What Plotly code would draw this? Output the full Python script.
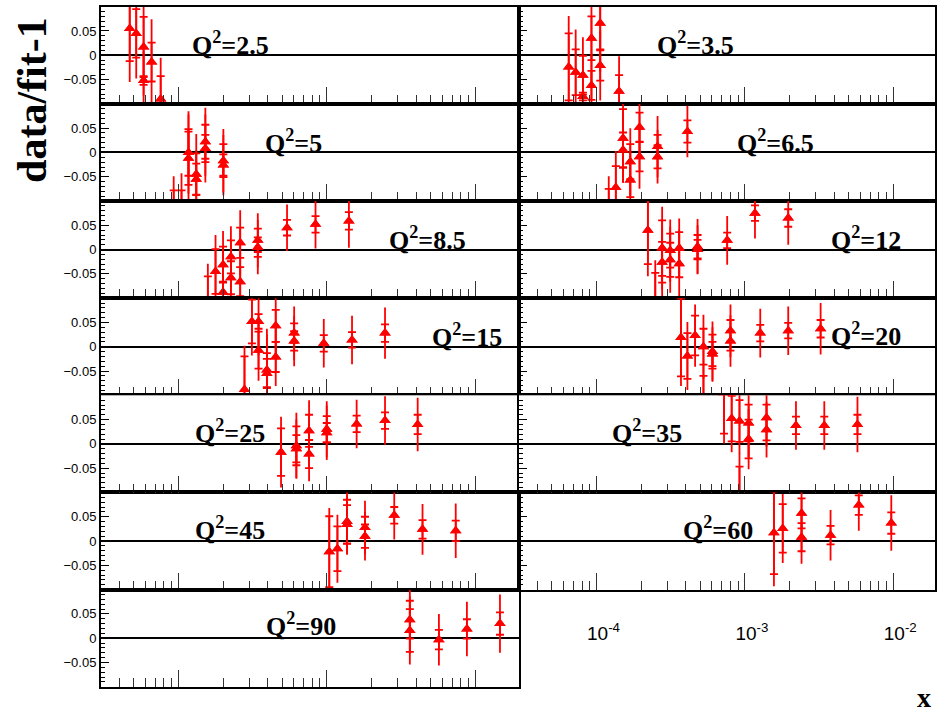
import plotly.graph_objects as go

W, H = 937, 712

# ---------------- data (x, value, stat error, total error) ----------------
q2_labels = ["2.5", "3.5", "5", "6.5", "8.5", "12", "15", "20", "25", "35", "45", "60", "90"]

x_2p5 = [4.7e-5, 5.2e-5, 5.83e-5, 5.83e-5, 6.6e-5, 7.6e-5]
y_2p5 = [0.055, 0.045, 0.017, -0.052, -0.014, -0.09]
s_2p5 = [0.067, 0.05, 0.062, 0.009, 0.040, 0.047]
t_2p5 = [0.11, 0.093, 0.10, 0.06, 0.088, 0.085]

x_3p5 = [6.5e-5, 7.24e-5, 8.1e-5, 8.1e-5, 9.25e-5, 9.25e-5, 1.06e-4, 1.06e-4, 1.42e-4]
y_3p5 = [-0.024, -0.035, -0.041, -0.085, 0.035, -0.062, 0.066, -0.021, -0.074]
s_3p5 = [0.069, 0.047, 0.04, 0.008, 0.045, 0.03, 0.054, 0.031, 0.033]
t_3p5 = [0.105, 0.088, 0.078, 0.05, 0.09, 0.065, 0.10, 0.072, 0.072]

x_5 = [9.3e-5, 1.05e-4, 1.17e-4, 1.17e-4, 1.32e-4, 1.32e-4, 1.52e-4, 1.52e-4, 2.01e-4, 2.01e-4]
y_5 = [-0.11, -0.11, 0.0, -0.012, -0.045, -0.055, 0.022, 0.008, -0.017, -0.026]
s_5 = [0.032, 0.032, 0.048, 0.055, 0.043, 0.032, 0.035, 0.028, 0.034, 0.022]
t_5 = [0.061, 0.067, 0.085, 0.09, 0.083, 0.06, 0.07, 0.07, 0.065, 0.062]

x_6p5 = [1.21e-4, 1.35e-4, 1.51e-4, 1.51e-4, 1.69e-4, 1.69e-4, 1.95e-4, 1.95e-4, 2.58e-4, 2.58e-4, 4.1e-4]
y_6p5 = [-0.11, -0.072, 0.029, 0.005, -0.019, -0.057, 0.052, -0.009, 0.012, -0.009, 0.043]
s_6p5 = [0.035, 0.044, 0.06, 0.036, 0.036, 0.035, 0.03, 0.03, 0.024, 0.024, 0.023]
t_6p5 = [0.061, 0.075, 0.09, 0.068, 0.069, 0.06, 0.06, 0.066, 0.063, 0.055, 0.053]

x_8p5 = [1.58e-4, 1.78e-4, 2.0e-4, 2.0e-4, 2.26e-4, 2.26e-4, 2.61e-4, 2.61e-4, 3.43e-4, 3.43e-4, 5.4e-4, 8.4e-4, 1.41e-3]
y_8p5 = [-0.11, -0.045, -0.031, -0.088, -0.015, -0.058, 0.014, -0.066, 0.019, 0.005, 0.045, 0.052, 0.059]
s_8p5 = [0.055, 0.046, 0.037, 0.022, 0.034, 0.034, 0.031, 0.03, 0.024, 0.02, 0.016, 0.017, 0.018]
t_8p5 = [0.081, 0.075, 0.069, 0.05, 0.063, 0.06, 0.067, 0.06, 0.056, 0.056, 0.048, 0.05, 0.055]

x_12 = [2.22e-4, 2.49e-4, 2.77e-4, 2.77e-4, 3.14e-4, 3.14e-4, 3.61e-4, 3.61e-4, 4.8e-4, 4.8e-4, 7.6e-4, 1.17e-3, 1.96e-3]
y_12 = [0.040, -0.11, 0.003, -0.026, -0.002, -0.021, 0.003, -0.029, 0.006, 0.0, 0.019, 0.075, 0.065]
s_12 = [0.07, 0.062, 0.057, 0.042, 0.035, 0.035, 0.033, 0.028, 0.024, 0.02, 0.016, 0.016, 0.018]
t_12 = [0.095, 0.088, 0.085, 0.07, 0.064, 0.068, 0.061, 0.07, 0.057, 0.05, 0.05, 0.052, 0.055]

x_15 = [2.79e-4, 3.13e-4, 3.47e-4, 3.47e-4, 3.95e-4, 3.95e-4, 4.53e-4, 4.53e-4, 6.03e-4, 6.03e-4, 9.55e-4, 1.48e-3, 2.47e-3]
y_15 = [-0.088, 0.052, 0.052, -0.007, -0.048, -0.055, 0.043, -0.021, 0.028, 0.012, 0.007, 0.014, 0.028]
s_15 = [0.068, 0.045, 0.015, 0.038, 0.035, 0.03, 0.033, 0.031, 0.02, 0.02, 0.017, 0.016, 0.018]
t_15 = [0.09, 0.07, 0.07, 0.063, 0.085, 0.08, 0.07, 0.06, 0.055, 0.052, 0.05, 0.05, 0.053]

x_20 = [3.71e-4, 4.1e-4, 4.62e-4, 5.26e-4, 5.26e-4, 6.05e-4, 6.05e-4, 8.0e-4, 8.0e-4, 1.27e-3, 1.96e-3, 3.24e-3]
y_20 = [0.019, -0.019, 0.023, 0.0, -0.11, -0.01, -0.015, 0.033, 0.012, 0.028, 0.033, 0.037]
s_20 = [0.08, 0.047, 0.041, 0.037, 0.05, 0.035, 0.025, 0.022, 0.02, 0.017, 0.016, 0.018]
t_20 = [0.1, 0.07, 0.064, 0.066, 0.075, 0.062, 0.055, 0.054, 0.053, 0.05, 0.05, 0.053]

x_25 = [4.92e-4, 6.24e-4, 6.24e-4, 7.6e-4, 7.6e-4, 1.0e-3, 1.0e-3, 1.59e-3, 2.47e-3, 4.1e-3]
y_25 = [-0.017, -0.004, -0.01, 0.027, -0.021, 0.03, 0.023, 0.041, 0.048, 0.040]
s_25 = [0.049, 0.04, 0.028, 0.033, 0.029, 0.027, 0.02, 0.017, 0.017, 0.02]
t_25 = [0.073, 0.068, 0.06, 0.063, 0.056, 0.058, 0.056, 0.05, 0.05, 0.055]

x_35 = [7.24e-4, 8.15e-4, 9.2e-4, 9.2e-4, 1.06e-3, 1.06e-3, 1.40e-3, 1.40e-3, 2.21e-3, 3.43e-3, 5.74e-3]
y_35 = [0.105, 0.052, 0.047, -0.11, 0.043, 0.01, 0.054, 0.029, 0.038, 0.038, 0.040]
s_35 = [0.084, 0.047, 0.043, 0.063, 0.038, 0.04, 0.027, 0.022, 0.018, 0.018, 0.02]
t_35 = [0.104, 0.069, 0.068, 0.09, 0.07, 0.062, 0.06, 0.057, 0.05, 0.05, 0.057]

x_45 = [1.04e-3, 1.18e-3, 1.37e-3, 1.37e-3, 1.81e-3, 1.81e-3, 2.85e-3, 4.42e-3, 7.4e-3]
y_45 = [-0.022, -0.016, 0.04, 0.034, 0.028, 0.01, 0.053, 0.024, 0.021]
s_45 = [0.073, 0.046, 0.045, 0.04, 0.022, 0.024, 0.017, 0.019, 0.021]
t_45 = [0.09, 0.07, 0.068, 0.06, 0.055, 0.05, 0.05, 0.052, 0.056]

x_60 = [1.57e-3, 1.80e-3, 2.41e-3, 2.41e-3, 3.78e-3, 5.86e-3, 9.7e-3]
y_60 = [0.017, 0.026, 0.057, 0.008, 0.012, 0.074, 0.037]
s_60 = [0.085, 0.05, 0.031, 0.029, 0.019, 0.02, 0.022]
t_60 = [0.11, 0.071, 0.045, 0.055, 0.052, 0.053, 0.057]

x_90 = [3.63e-3, 3.63e-3, 5.7e-3, 8.8e-3, 1.47e-2]
y_90 = [0.038, 0.016, -0.003, 0.019, 0.030]
s_90 = [0.039, 0.044, 0.02, 0.02, 0.023]
t_90 = [0.07, 0.07, 0.053, 0.056, 0.06]

decade_ticks = [1e-4, 1e-3, 1e-2]
decade_text = ["10<sup>-4</sup>", "10<sup>-3</sup>", "10<sup>-2</sup>"]
y_ticks = [-0.05, 0, 0.05]

series = [
    (x_2p5, y_2p5, s_2p5, t_2p5), (x_3p5, y_3p5, s_3p5, t_3p5),
    (x_5, y_5, s_5, t_5), (x_6p5, y_6p5, s_6p5, t_6p5),
    (x_8p5, y_8p5, s_8p5, t_8p5), (x_12, y_12, s_12, t_12),
    (x_15, y_15, s_15, t_15), (x_20, y_20, s_20, t_20),
    (x_25, y_25, s_25, t_25), (x_35, y_35, s_35, t_35),
    (x_45, y_45, s_45, t_45), (x_60, y_60, s_60, t_60),
    (x_90, y_90, s_90, t_90),
]

# label centres (pixels)
label_pos = [(231, 43), (697, 43), (294, 141), (777, 141), (428, 238), (868, 238),
             (468, 335), (868, 334), (230, 431), (648, 431), (230, 528), (720, 528), (302, 624)]

# ---------------- layout geometry ----------------
def fx(px):
    return px / W

def fy(py):
    return 1 - py / H

LX0 = -4.5229          # log10(3e-5)
DEC = 148.7            # pixels per decade
col_px = [(101, 520), (520, 937)]
row_top, row_h = 6.7, 97.15

minor_vals = []
for e in (-5, -4, -3, -2):
    for m in range(2, 10):
        minor_vals.append(m * 10 ** e)

fig = go.Figure()
layout = {}
RED = "#ff0000"

for k, (xs, ys, ss, ts) in enumerate(series):
    row, col = divmod(k, 2)
    n = k + 1
    xn, yn = f"x{n}", f"y{n}"
    p0, p1 = col_px[col]
    top = row_top + row * row_h
    bot = top + row_h
    # total errors (no caps)
    fig.add_trace(go.Scatter(
        x=xs, y=ys, mode="markers", xaxis=xn, yaxis=yn, showlegend=False,
        marker=dict(symbol="triangle-up", size=10, color=RED),
        error_y=dict(type="data", array=ts, width=0, thickness=1.8, color=RED)))
    # statistical errors (caps)
    fig.add_trace(go.Scatter(
        x=xs, y=ys, mode="markers", xaxis=xn, yaxis=yn, showlegend=False,
        marker=dict(symbol="triangle-up", size=10, color=RED),
        error_y=dict(type="data", array=ss, width=4, thickness=1.8, color=RED)))

    layout[f"xaxis{n}"] = dict(
        type="log", range=[LX0, LX0 + (p1 - p0) / DEC],
        domain=[fx(p0), fx(p1)], anchor=yn,
        showline=True, mirror=True, linecolor="black", linewidth=1.6,
        ticks="inside", tickvals=decade_ticks, ticklen=17, tickwidth=1.2, tickcolor="#333",
        showticklabels=False, showgrid=False, zeroline=False,
        minor=dict(tickvals=minor_vals, ticks="inside", ticklen=9, tickwidth=1.2,
                   tickcolor="#333", showgrid=False))
    layout[f"yaxis{n}"] = dict(
        range=[-0.1, 0.1], domain=[fy(bot), fy(top)], anchor=xn,
        showline=True, mirror=True, linecolor="black", linewidth=1.6,
        ticks="inside", tickvals=y_ticks, ticklen=8, tickwidth=1.2, tickcolor="black",
        showticklabels=(col == 0), tickfont=dict(family="Liberation Sans", size=13, color="black"),
        showgrid=False, zeroline=True, zerolinecolor="black", zerolinewidth=1.5,
        minor=dict(dtick=0.01, tick0=0, ticks="inside", ticklen=4, tickwidth=1, tickcolor="black",
                   showgrid=False))

# axis that carries the x tick labels in the empty bottom-right cell
fig.add_trace(go.Scatter(x=[], y=[], xaxis="x14", yaxis="y14", showlegend=False))
layout["xaxis14"] = dict(
    type="log", range=[LX0, LX0 + (937 - 520) / DEC], domain=[fx(520), 1.0], anchor="y14",
    showline=False, ticks="", tickvals=decade_ticks, ticktext=decade_text,
    ticklabelshift=7,
    tickfont=dict(family="Liberation Sans", size=19, color="black"),
    showgrid=False, zeroline=False)
layout["yaxis14"] = dict(domain=[fy(620), fy(604)], anchor="x14", visible=False, range=[0, 1])

annotations = []
for (cx, cy), lab in zip(label_pos, q2_labels):
    annotations.append(dict(
        x=fx(cx), y=fy(cy), xref="paper", yref="paper", xanchor="center", yanchor="middle",
        text=f"<b>Q<sup>2</sup>={lab}</b>", showarrow=False,
        font=dict(family="Liberation Serif", size=26, color="black")))
annotations.append(dict(
    x=fx(32), y=fy(100), xref="paper", yref="paper", xanchor="center", yanchor="middle",
    text="<b>data/fit-1</b>", textangle=-90, showarrow=False,
    font=dict(family="Liberation Serif", size=42, color="black")))
annotations.append(dict(
    x=fx(934), y=fy(697), xref="paper", yref="paper", xanchor="right", yanchor="middle",
    text="<b>x</b>", showarrow=False, borderpad=0,
    font=dict(family="Liberation Serif", size=28, color="black")))

fig.update_layout(
    width=W, height=H, margin=dict(l=0, r=0, t=0, b=0),
    paper_bgcolor="white", plot_bgcolor="white",
    annotations=annotations, **layout)

fig.write_html("out.html")
